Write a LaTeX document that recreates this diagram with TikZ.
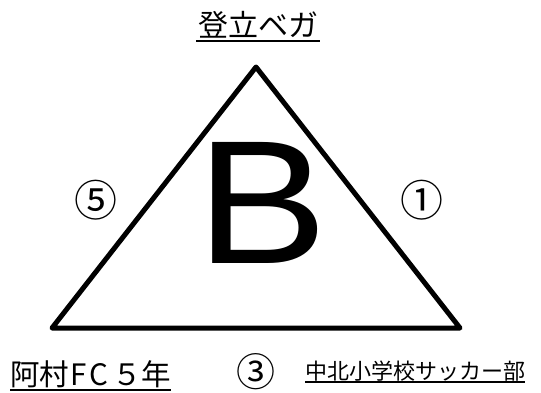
\documentclass[tikz,border=0pt]{standalone}
\usepackage{graphicx}
\usepackage{fontspec}
\newfontfamily\jp{Noto Sans CJK JP}
\newfontfamily\lat{Liberation Sans}
\usetikzlibrary{calc}
\begin{document}
\begin{tikzpicture}[x=1pt,y=-1pt,
  txt/.style={inner sep=0pt, outer sep=0pt},
  circ/.style={txt, font=\jp\fontsize{43}{43}\selectfont},
  uline/.style={line width=2pt}]
\useasboundingbox (0,0) rectangle (541,392);
\coordinate (A) at (256,67);
\coordinate (L) at (52,328);
\coordinate (R) at (460,328);
\draw[line width=5pt, line join=round] (A) -- (L) -- (R) -- cycle;
\node[txt, anchor=base, font=\lat\fontsize{176}{176}\selectfont] (b) at (262,263) {\scalebox{1.12}[1]{B}};
\node[circ] (c5) at (96,200) {⑤};
\node[circ] (c1) at (422,200) {①};
\node[circ, font=\jp\fontsize{39}{39}\selectfont] (c3) at (256,372) {③};
\node[txt, anchor=base, font=\jp\fontsize{30}{30}\selectfont] (t) at (258,36) {登立ベガ};
\draw[uline] ($(t.base west)+(-2,5)$) -- ($(t.base east)+(2,5)$);
\node[txt, anchor=base west, font=\jp\fontsize{29.5}{29.5}\selectfont] (h) at (10,385) {阿村\hspace{2pt}F\hspace{2pt}C\hspace{4pt}５年};
\draw[uline] ($(h.base west)+(0,5)$) -- ($(h.base east)+(0,5)$);
\node[txt, anchor=base west, font=\jp\fontsize{22}{22}\selectfont] (n) at (305,379) {中北小学校サッカー部};
\draw[uline] ($(n.base west)+(0,3)$) -- ($(n.base east)+(0,3)$);
\end{tikzpicture}
\end{document}
